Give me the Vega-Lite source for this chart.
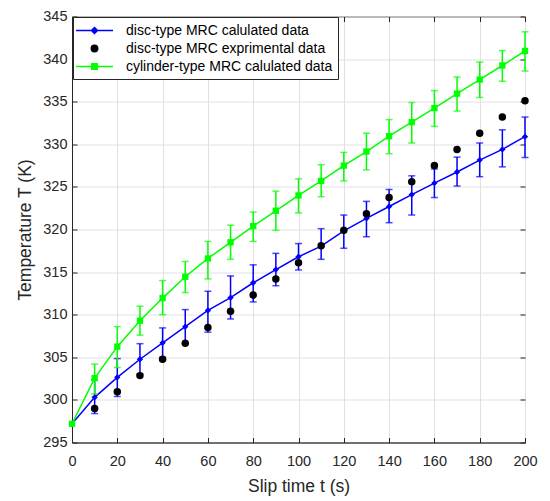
{
  "$schema": "https://vega.github.io/schema/vega-lite/v6.json",
  "width": 453,
  "height": 426,
  "autosize": "none",
  "padding": {"left": 72, "top": 16.5, "right": 25, "bottom": 58.5},
  "background": "white",
  "config": {
    "font": "Liberation Sans",
    "view": {"stroke": "#262626", "strokeWidth": 1},
    "axis": {
      "domainColor": "#262626",
      "tickColor": "#262626",
      "labelColor": "#262626",
      "titleColor": "#262626",
      "labelFontSize": 14.5,
      "titleFontSize": 17.5,
      "titleFontWeight": "normal",
      "gridColor": "#e1e1e1",
      "gridWidth": 1,
      "tickSize": -5,
      "tickWidth": 1,
      "domainWidth": 1,
      "labelFlush": false
    }
  },
  "datasets": {
    "main": [
      {"series": "disc-type MRC calulated data", "t": 0, "temp": 297.2, "lo": null, "hi": null},
      {"series": "disc-type MRC calulated data", "t": 10, "temp": 300.3, "lo": 298.4, "hi": 302.35},
      {"series": "disc-type MRC calulated data", "t": 20, "temp": 302.65, "lo": 300.4, "hi": 304.85},
      {"series": "disc-type MRC calulated data", "t": 30, "temp": 304.77, "lo": 303.05, "hi": 306.6},
      {"series": "disc-type MRC calulated data", "t": 40, "temp": 306.7, "lo": 305.0, "hi": 308.45},
      {"series": "disc-type MRC calulated data", "t": 50, "temp": 308.6, "lo": 306.6, "hi": 310.6},
      {"series": "disc-type MRC calulated data", "t": 60, "temp": 310.5, "lo": 307.95, "hi": 312.75},
      {"series": "disc-type MRC calulated data", "t": 70, "temp": 312.0, "lo": 309.5, "hi": 314.55},
      {"series": "disc-type MRC calulated data", "t": 80, "temp": 313.75, "lo": 311.5, "hi": 315.85},
      {"series": "disc-type MRC calulated data", "t": 90, "temp": 315.3, "lo": 313.4, "hi": 317.2},
      {"series": "disc-type MRC calulated data", "t": 100, "temp": 316.8, "lo": 315.25, "hi": 318.35},
      {"series": "disc-type MRC calulated data", "t": 110, "temp": 318.05, "lo": 316.5, "hi": 320.1},
      {"series": "disc-type MRC calulated data", "t": 120, "temp": 319.85, "lo": 317.8, "hi": 321.7},
      {"series": "disc-type MRC calulated data", "t": 130, "temp": 321.3, "lo": 319.15, "hi": 323.3},
      {"series": "disc-type MRC calulated data", "t": 140, "temp": 322.7, "lo": 320.8, "hi": 324.7},
      {"series": "disc-type MRC calulated data", "t": 150, "temp": 324.1, "lo": 321.7, "hi": 326.3},
      {"series": "disc-type MRC calulated data", "t": 160, "temp": 325.45, "lo": 323.75, "hi": 327.1},
      {"series": "disc-type MRC calulated data", "t": 170, "temp": 326.75, "lo": 325.1, "hi": 328.5},
      {"series": "disc-type MRC calulated data", "t": 180, "temp": 328.15, "lo": 326.2, "hi": 330.15},
      {"series": "disc-type MRC calulated data", "t": 190, "temp": 329.4, "lo": 327.35, "hi": 331.7},
      {"series": "disc-type MRC calulated data", "t": 200, "temp": 330.9, "lo": 328.45, "hi": 333.2},
      {"series": "disc-type MRC exprimental data", "t": 10, "temp": 299.0},
      {"series": "disc-type MRC exprimental data", "t": 20, "temp": 300.95},
      {"series": "disc-type MRC exprimental data", "t": 30, "temp": 302.85},
      {"series": "disc-type MRC exprimental data", "t": 40, "temp": 304.77},
      {"series": "disc-type MRC exprimental data", "t": 50, "temp": 306.65},
      {"series": "disc-type MRC exprimental data", "t": 60, "temp": 308.5},
      {"series": "disc-type MRC exprimental data", "t": 70, "temp": 310.4},
      {"series": "disc-type MRC exprimental data", "t": 80, "temp": 312.3},
      {"series": "disc-type MRC exprimental data", "t": 90, "temp": 314.2},
      {"series": "disc-type MRC exprimental data", "t": 100, "temp": 316.1},
      {"series": "disc-type MRC exprimental data", "t": 110, "temp": 318.1},
      {"series": "disc-type MRC exprimental data", "t": 120, "temp": 319.9},
      {"series": "disc-type MRC exprimental data", "t": 130, "temp": 321.85},
      {"series": "disc-type MRC exprimental data", "t": 140, "temp": 323.75},
      {"series": "disc-type MRC exprimental data", "t": 150, "temp": 325.6},
      {"series": "disc-type MRC exprimental data", "t": 160, "temp": 327.5},
      {"series": "disc-type MRC exprimental data", "t": 170, "temp": 329.4},
      {"series": "disc-type MRC exprimental data", "t": 180, "temp": 331.3},
      {"series": "disc-type MRC exprimental data", "t": 190, "temp": 333.2},
      {"series": "disc-type MRC exprimental data", "t": 200, "temp": 335.1},
      {"series": "cylinder-type MRC calulated data", "t": 0, "temp": 297.2, "lo": null, "hi": null},
      {"series": "cylinder-type MRC calulated data", "t": 10, "temp": 302.55, "lo": 300.7, "hi": 304.2},
      {"series": "cylinder-type MRC calulated data", "t": 20, "temp": 306.25, "lo": 303.8, "hi": 308.6},
      {"series": "cylinder-type MRC calulated data", "t": 30, "temp": 309.3, "lo": 307.6, "hi": 311.0},
      {"series": "cylinder-type MRC calulated data", "t": 40, "temp": 311.95, "lo": 310.0, "hi": 314.0},
      {"series": "cylinder-type MRC calulated data", "t": 50, "temp": 314.45, "lo": 312.6, "hi": 316.25},
      {"series": "cylinder-type MRC calulated data", "t": 60, "temp": 316.6, "lo": 314.2, "hi": 318.6},
      {"series": "cylinder-type MRC calulated data", "t": 70, "temp": 318.5, "lo": 316.5, "hi": 320.5},
      {"series": "cylinder-type MRC calulated data", "t": 80, "temp": 320.4, "lo": 318.6, "hi": 322.05},
      {"series": "cylinder-type MRC calulated data", "t": 90, "temp": 322.2, "lo": 319.9, "hi": 324.5},
      {"series": "cylinder-type MRC calulated data", "t": 100, "temp": 324.0, "lo": 321.95, "hi": 325.95},
      {"series": "cylinder-type MRC calulated data", "t": 110, "temp": 325.7, "lo": 323.85, "hi": 327.6},
      {"series": "cylinder-type MRC calulated data", "t": 120, "temp": 327.5, "lo": 325.7, "hi": 329.05},
      {"series": "cylinder-type MRC calulated data", "t": 130, "temp": 329.15, "lo": 327.0, "hi": 331.3},
      {"series": "cylinder-type MRC calulated data", "t": 140, "temp": 330.95, "lo": 328.9, "hi": 332.9},
      {"series": "cylinder-type MRC calulated data", "t": 150, "temp": 332.6, "lo": 330.15, "hi": 334.9},
      {"series": "cylinder-type MRC calulated data", "t": 160, "temp": 334.25, "lo": 332.1, "hi": 336.3},
      {"series": "cylinder-type MRC calulated data", "t": 170, "temp": 335.95, "lo": 333.9, "hi": 337.9},
      {"series": "cylinder-type MRC calulated data", "t": 180, "temp": 337.6, "lo": 335.5, "hi": 339.65},
      {"series": "cylinder-type MRC calulated data", "t": 190, "temp": 339.25, "lo": 337.4, "hi": 341.0},
      {"series": "cylinder-type MRC calulated data", "t": 200, "temp": 340.95, "lo": 338.6, "hi": 343.2}
    ]
  },
  "data": {"name": "main"},
  "layer": [
    {
      "transform": [{"filter": "datum.series === 'disc-type MRC calulated data' && isValid(datum.lo) && isValid(datum.hi)"}],
      "mark": {"type": "errorbar", "ticks": true, "size": 7, "thickness": 1.5, "color": "#0000ff"},
      "encoding": {
        "x": {
          "field": "t", "type": "quantitative",
          "scale": {"domain": [0, 200], "nice": false, "zero": false},
          "axis": {
            "orient": "bottom",
            "values": [0, 20, 40, 60, 80, 100, 120, 140, 160, 180, 200],
            "title": "Slip time t (s)",
            "grid": true,
            "labelPadding": 17,
            "titlePadding": 9
          }
        },
        "y": {
          "field": "lo", "type": "quantitative",
          "scale": {"domain": [295, 345], "nice": false, "zero": false},
          "axis": {
            "orient": "left",
            "values": [295, 300, 305, 310, 315, 320, 325, 330, 335, 340, 345],
            "title": "Temperature T (K)",
            "grid": true,
            "labelPadding": 10,
            "titlePadding": 8
          }
        },
        "y2": {"field": "hi"}
      }
    },
    {
      "transform": [{"filter": "datum.series === 'disc-type MRC calulated data'"}],
      "mark": {"type": "line", "strokeWidth": 1.5, "color": "#0000ff"},
      "encoding": {
        "x": {"field": "t", "type": "quantitative", "axis": null},
        "y": {"field": "temp", "type": "quantitative", "axis": null}
      }
    },
    {
      "transform": [{"filter": "datum.series === 'disc-type MRC calulated data'"}],
      "mark": {"type": "point", "shape": "diamond", "filled": true, "opacity": 1, "size": 40, "color": "#0000ff"},
      "encoding": {
        "x": {"field": "t", "type": "quantitative", "axis": null},
        "y": {"field": "temp", "type": "quantitative", "axis": null}
      }
    },
    {
      "transform": [{"filter": "datum.series === 'disc-type MRC exprimental data'"}],
      "mark": {"type": "point", "shape": "circle", "filled": true, "opacity": 1, "size": 56, "color": "#000000"},
      "encoding": {
        "x": {"field": "t", "type": "quantitative", "axis": null},
        "y": {"field": "temp", "type": "quantitative", "axis": null}
      }
    },
    {
      "transform": [{"filter": "datum.series === 'cylinder-type MRC calulated data' && isValid(datum.lo) && isValid(datum.hi)"}],
      "mark": {"type": "errorbar", "ticks": true, "size": 7, "thickness": 1.5, "color": "#00ff00"},
      "encoding": {
        "x": {"field": "t", "type": "quantitative", "axis": null},
        "y": {"field": "lo", "type": "quantitative", "axis": null},
        "y2": {"field": "hi"}
      }
    },
    {
      "transform": [{"filter": "datum.series === 'cylinder-type MRC calulated data'"}],
      "mark": {"type": "line", "strokeWidth": 1.5, "color": "#00ff00"},
      "encoding": {
        "x": {
          "field": "t", "type": "quantitative",
          "axis": {"orient": "top", "values": [0, 20, 40, 60, 80, 100, 120, 140, 160, 180, 200], "labels": false, "title": null, "grid": false, "domain": false}
        },
        "y": {
          "field": "temp", "type": "quantitative",
          "axis": {"orient": "right", "values": [295, 300, 305, 310, 315, 320, 325, 330, 335, 340, 345], "labels": false, "title": null, "grid": false, "domain": false}
        }
      }
    },
    {
      "transform": [{"filter": "datum.series === 'cylinder-type MRC calulated data'"}],
      "mark": {"type": "point", "shape": "square", "filled": true, "opacity": 1, "size": 40, "color": "#00ff00"},
      "encoding": {
        "x": {"field": "t", "type": "quantitative", "axis": null},
        "y": {"field": "temp", "type": "quantitative", "axis": null}
      }
    },
    {
      "mark": {"type": "point", "opacity": 0},
      "encoding": {
        "x": {"field": "t", "type": "quantitative", "axis": null},
        "y": {"field": "temp", "type": "quantitative", "axis": null},
        "fill": {
          "field": "series", "type": "nominal",
          "scale": {
            "domain": ["disc-type MRC calulated data", "disc-type MRC exprimental data", "cylinder-type MRC calulated data"],
            "range": ["#0000ff", "#000000", "#00ff00"]
          },
          "legend": {
            "orient": "none",
            "legendX": 1,
            "legendY": 0.5,
            "title": null,
            "padding": 5,
            "strokeColor": "#262626",
            "fillColor": "white",
            "labelFontSize": 14,
            "labelColor": "#000000",
            "labelFont": "Liberation Sans",
            "labelLimit": 400,
            "symbolSize": 225,
            "symbolOffset": 8,
            "symbolOpacity": 1,
            "symbolStrokeWidth": 1.5,
            "labelOffset": 23,
            "rowPadding": 2
          }
        },
        "stroke": {
          "field": "series", "type": "nominal",
          "scale": {
            "domain": ["disc-type MRC calulated data", "disc-type MRC exprimental data", "cylinder-type MRC calulated data"],
            "range": ["#0000ff", "#000000", "#00ff00"]
          },
          "legend": {
            "orient": "none",
            "legendX": 1,
            "legendY": 0.5,
            "title": null,
            "padding": 5,
            "strokeColor": "#262626",
            "fillColor": "white",
            "labelFontSize": 14,
            "labelColor": "#000000",
            "labelFont": "Liberation Sans",
            "labelLimit": 400,
            "symbolSize": 225,
            "symbolOffset": 8,
            "symbolOpacity": 1,
            "symbolStrokeWidth": 1.5,
            "labelOffset": 23,
            "rowPadding": 2
          }
        },
        "shape": {
          "field": "series", "type": "nominal",
          "scale": {
            "domain": ["disc-type MRC calulated data", "disc-type MRC exprimental data", "cylinder-type MRC calulated data"],
            "range": [
              "M-2.47,0L2.47,0M0,-0.4L0.4,0L0,0.4L-0.4,0Z",
              "M-0.43,0A0.43,0.43,0,1,1,0.43,0A0.43,0.43,0,1,1,-0.43,0Z",
              "M-2.47,0L2.47,0M-0.37,-0.37L0.37,-0.37L0.37,0.37L-0.37,0.37Z"
            ]
          },
          "legend": {
            "orient": "none",
            "legendX": 1,
            "legendY": 0.5,
            "title": null,
            "padding": 5,
            "strokeColor": "#262626",
            "fillColor": "white",
            "labelFontSize": 14,
            "labelColor": "#000000",
            "labelFont": "Liberation Sans",
            "labelLimit": 400,
            "symbolSize": 225,
            "symbolOffset": 8,
            "symbolOpacity": 1,
            "symbolStrokeWidth": 1.5,
            "labelOffset": 23,
            "rowPadding": 2
          }
        }
      }
    }
  ],
  "resolve": {"axis": {"x": "independent", "y": "independent"}}
}
